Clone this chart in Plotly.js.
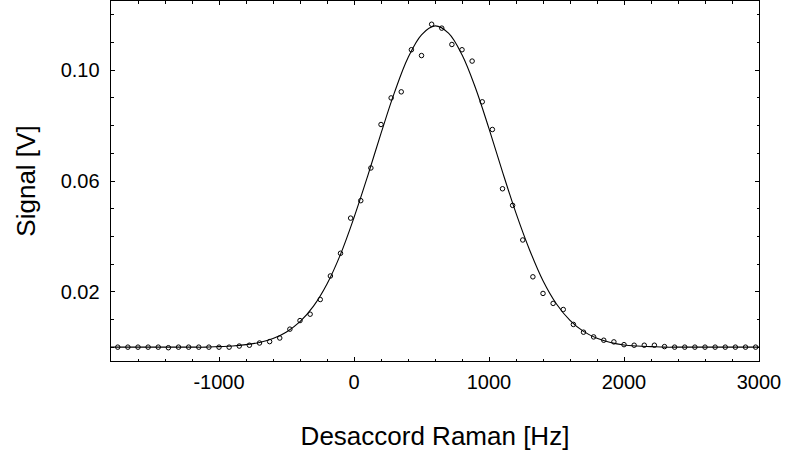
<!DOCTYPE html>
<html>
<head>
<meta charset="utf-8">
<script src="https://cdn.plot.ly/plotly-3.0.1.min.js"></script>
<style>html,body{margin:0;padding:0;background:#fff;}#chart{width:785px;height:456px;}</style>
</head>
<body>
<div id="chart"></div>
<script>
// Measured points (detuning in Hz, signal in V)
const pointX = [-1750,-1675,-1600,-1525,-1450,-1375,-1300,-1225,-1150,-1075,-1000,-925,-850,-775,-700,-625,-550,-475,-400,-325,-250,-175,-100,-25,50,125,200,275,350,425,500,575,650,725,800,875,950,1025,1100,1175,1250,1325,1400,1475,1550,1625,1700,1775,1850,1925,2000,2075,2150,2225,2300,2375,2450,2525,2600,2675,2750,2825,2900,2975];
const pointY = [0.0000,0.0000,0.0000,0.0000,0.0000,-0.0002,0.0000,0.0000,0.0000,0.0000,0.0000,0.0000,0.0004,0.0007,0.0015,0.0020,0.0033,0.0065,0.0096,0.0119,0.0172,0.0257,0.0339,0.0466,0.0529,0.0647,0.0804,0.0900,0.0922,0.1074,0.1053,0.1166,0.1152,0.1093,0.1074,0.1033,0.0886,0.0786,0.0572,0.0512,0.0387,0.0254,0.0194,0.0158,0.0136,0.0082,0.0054,0.0037,0.0025,0.0019,0.0009,0.0007,0.0007,0.0007,0.0002,0.0000,0.0000,0.0000,0.0000,0.0000,0.0000,0.0000,0.0000,0.0000];

// Fitted curve
const fitX = [-1800,-1700,-1600,-1500,-1400,-1300,-1200,-1100,-1000,-900,-800,-700,-600,-500,-400,-300,-200,-100,0,100,200,300,400,500,600,700,800,900,1000,1100,1200,1300,1400,1500,1600,1700,1800,1900,2000,2100,2200,2300,2400,2500,2600,2700,2800,2900,3000];
const fitY = [0,0,0,0,0,0,0,0,0.0002,0.0004,0.0009,0.0017,0.0031,0.0055,0.0092,0.0148,0.0228,0.0335,0.0468,0.0616,0.0772,0.0920,0.1045,0.1128,0.1160,0.1134,0.1056,0.0936,0.0789,0.0633,0.0484,0.0352,0.0240,0.0156,0.0097,0.0057,0.0032,0.0017,0.0008,0.0004,0.0002,0,0,0,0,0,0,0,0];

const xTickVals = [-1000, 0, 1000, 2000, 3000];
const xTickText = ['-1000', '0', '1000', '2000', '3000'];
const yTickVals = [0.02, 0.06, 0.10];
const yTickText = ['0.02', '0.06', '0.10'];

const FONT = 'Liberation Sans, Arial, sans-serif';

const traces = [
  {
    x: fitX, y: fitY, type: 'scatter', mode: 'lines',
    line: {color: '#000', width: 1.1, shape: 'spline', smoothing: 1},
    hoverinfo: 'skip', showlegend: false
  },
  {
    x: pointX, y: pointY, type: 'scatter', mode: 'markers',
    marker: {symbol: 'circle-open', size: 4.5, color: '#000', line: {color: '#000', width: 1}},
    showlegend: false
  }
];

const axisCommon = {
  showgrid: false, zeroline: false,
  showline: true, linecolor: '#000', linewidth: 1.4, mirror: 'ticks',
  ticks: 'inside', ticklen: 4, tickwidth: 1, tickcolor: '#000',
  tickfont: {family: FONT, size: 20, color: '#000'}
};

const layout = {
  width: 785, height: 456,
  margin: {l: 111, r: 26, t: 1, b: 95},
  paper_bgcolor: '#fff', plot_bgcolor: '#fff',
  font: {family: FONT, color: '#000'},
  xaxis: Object.assign({}, axisCommon, {
    range: [-1800, 3000],
    tickmode: 'array', tickvals: xTickVals, ticktext: xTickText,
    ticklabelstandoff: 3,
    minor: {dtick: 200, tick0: 0, ticks: 'inside', ticklen: 2.5, tickwidth: 1, tickcolor: '#000', showgrid: false},
    title: {text: 'Desaccord Raman [Hz]', font: {family: FONT, size: 26, color: '#000'}, standoff: 34}
  }),
  yaxis: Object.assign({}, axisCommon, {
    range: [-0.005, 0.125],
    tickmode: 'array', tickvals: yTickVals, ticktext: yTickText,
    ticklabelstandoff: 6,
    minor: {dtick: 0.01, tick0: 0, ticks: 'inside', ticklen: 2.5, tickwidth: 1, tickcolor: '#000', showgrid: false},
    title: {text: 'Signal [V]', font: {family: FONT, size: 26, color: '#000'}, standoff: 17}
  })
};

Plotly.newPlot('chart', traces, layout, {staticPlot: true, displayModeBar: false});
</script>
</body>
</html>
